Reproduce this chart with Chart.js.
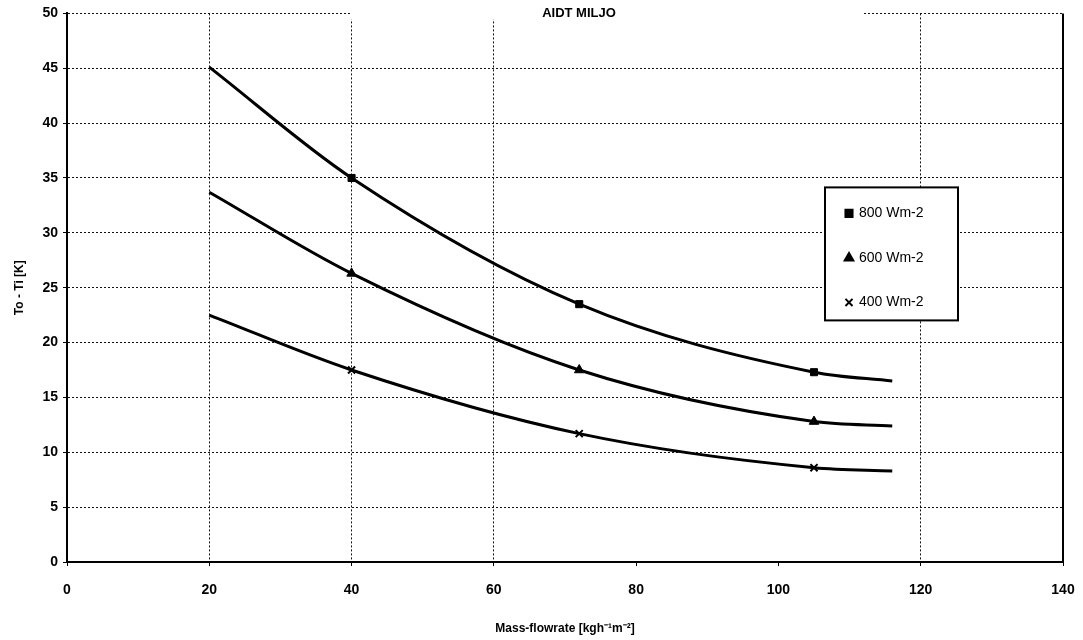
<!DOCTYPE html>
<html>
<head>
<meta charset="utf-8">
<script src="https://cdn.jsdelivr.net/npm/chart.js@4/dist/chart.umd.min.js"></script>
<style>
  html, body { margin: 0; padding: 0; background: #fff; }
  #wrap { width: 1083px; height: 640px; }
</style>
</head>
<body>
<div id="wrap"><canvas id="chart"></canvas></div>
<script>
// values
const flowrate = [20, 40, 72, 105, 116];
const dt800 = [45.1, 35.0, 23.5, 17.3, 16.5];
const dt600 = [33.7, 26.3, 17.5, 12.8, 12.4];
const dt400 = [22.5, 17.5, 11.7, 8.6, 8.3];
const marked = [false, true, true, true, false];
const seriesLabels = ['800 Wm-2', '600 Wm-2', '400 Wm-2'];
const xTicks = [0, 20, 40, 60, 80, 100, 120, 140];
const yTicks = [0, 5, 10, 15, 20, 25, 30, 35, 40, 45, 50];
const titleText = 'AIDT MILJO';

const FONT = "'Liberation Sans', Arial, sans-serif";

function toPoints(ys) {
  return flowrate.map(function(x, i) { return { x: x, y: ys[i] }; });
}
function radii(r) {
  return marked.map(function(m) { return m ? r : 0; });
}
function series(label, ys, style, r) {
  return {
    label: label,
    data: toPoints(ys),
    borderColor: '#000',
    backgroundColor: '#000',
    borderWidth: 3,
    pointStyle: style,
    pointRadius: radii(r),
    pointBorderWidth: style === 'crossRot' ? 2 : 1,
    pointHoverRadius: 0,
    cubicInterpolationMode: 'monotone',
    fill: false
  };
}

// title sits on the top border, with a gap cut out of the dotted line
const titlePlugin = {
  id: 'topTitle',
  afterDraw: function(chart) {
    const ctx = chart.ctx, a = chart.chartArea;
    ctx.save();
    ctx.fillStyle = '#fff';
    ctx.fillRect(350, a.top - 6, 512, 12);
    ctx.fillStyle = '#000';
    ctx.font = 'bold 13px ' + FONT;
    ctx.textAlign = 'center';
    ctx.textBaseline = 'middle';
    ctx.fillText(titleText, 579, a.top);
    // right border
    ctx.strokeStyle = '#000';
    ctx.lineWidth = 2;
    ctx.beginPath();
    ctx.moveTo(a.right, a.top);
    ctx.lineTo(a.right, a.bottom);
    ctx.stroke();
    ctx.restore();
  }
};

// boxed legend inside the plot
const boxLegend = {
  id: 'boxLegend',
  afterDraw: function(chart) {
    const ctx = chart.ctx, a = chart.chartArea;
    const left = a.right - 238, top = a.top + 174, w = 133, h = 133;
    ctx.save();
    ctx.fillStyle = '#fff';
    ctx.fillRect(left, top, w, h);
    ctx.strokeStyle = '#000';
    ctx.lineWidth = 2;
    ctx.strokeRect(left, top, w, h);
    ctx.font = '14px ' + FONT;
    ctx.textBaseline = 'middle';
    ctx.textAlign = 'left';
    chart.data.datasets.forEach(function(ds, i) {
      const y = top + 26 + i * 44.5;
      ctx.fillStyle = '#000';
      ctx.strokeStyle = '#000';
      ctx.lineWidth = 2;
      Chart.helpers.drawPoint(ctx, { pointStyle: ds.pointStyle, radius: 5, borderWidth: 2 }, left + 24, y);
      if (ds.pointStyle === 'rect') ctx.fill();
      ctx.fillText(ds.label, left + 34, y);
    });
    ctx.restore();
  }
};

const hiddenX = [0, 80, 100, 140];

new Chart(document.getElementById('chart'), {
  type: 'line',
  data: {
    datasets: [
      series(seriesLabels[0], dt800, 'rect', 5),
      series(seriesLabels[1], dt600, 'triangle', 5.5),
      series(seriesLabels[2], dt400, 'crossRot', 5)
    ]
  },
  options: {
    responsive: true,
    maintainAspectRatio: false,
    animation: false,
    layout: { padding: { top: 13, right: 20, left: 0, bottom: 0 } },
    plugins: {
      legend: { display: false },
      title: { display: false },
      tooltip: { enabled: false }
    },
    scales: {
      x: {
        type: 'linear',
        min: 0, max: 140,
        afterBuildTicks: function(s) { s.ticks = xTicks.map(function(v) { return { value: v }; }); },
        afterFit: function(s) { s.height = 78; s.paddingRight = 0; },
        border: { display: true, color: '#000', width: 2, dash: [2, 2] },
        grid: {
          color: function(c) {
            return (c.tick && hiddenX.indexOf(c.tick.value) >= 0) ? 'rgba(0,0,0,0)' : '#111';
          },
          lineWidth: 1,
          tickLength: 4,
          tickColor: '#000'
        },
        ticks: {
          color: '#000',
          font: { family: FONT, size: 14, weight: 'bold' },
          padding: 16,
          maxRotation: 0
        },
        title: {
          display: true,
          text: 'Mass-flowrate [kgh⁻¹m⁻²]',
          color: '#000',
          font: { family: FONT, size: 12, weight: 'bold' },
          padding: { top: 0, bottom: 4 }
        }
      },
      y: {
        min: 0, max: 50,
        afterBuildTicks: function(s) { s.ticks = yTicks.map(function(v) { return { value: v }; }); },
        afterFit: function(s) { s.width = 67; },
        border: { display: true, color: '#000', width: 2, dash: [2, 2] },
        grid: {
          color: function(c) { return (c.tick && c.tick.value === 0) ? 'rgba(0,0,0,0)' : '#111'; },
          lineWidth: 1,
          tickLength: 4,
          tickColor: '#000'
        },
        ticks: {
          color: '#000',
          font: { family: FONT, size: 14, weight: 'bold' },
          padding: 5
        },
        title: {
          display: true,
          text: 'To - Ti [K]',
          color: '#000',
          font: { family: FONT, size: 12, weight: 'bold' },
          padding: { top: 12, bottom: 0 }
        }
      }
    }
  },
  plugins: [titlePlugin, boxLegend]
});
</script>
</body>
</html>
